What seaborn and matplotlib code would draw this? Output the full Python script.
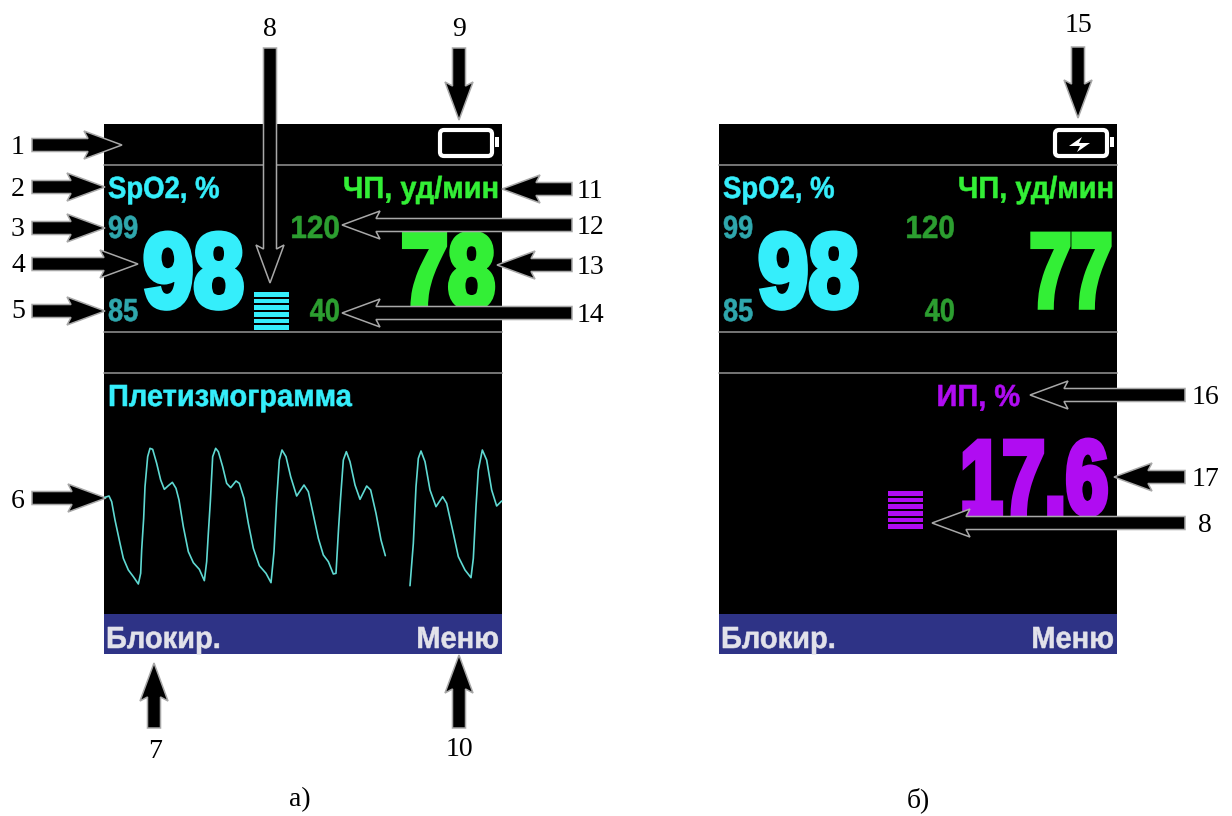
import numpy as np
import matplotlib
matplotlib.use('Agg')
import matplotlib.pyplot as plt
import matplotlib.patheffects as pe
from matplotlib.patches import Rectangle, FancyBboxPatch, Polygon
from matplotlib.transforms import Affine2D
import seaborn as sns

sns.set_theme(style='white')
SANS = ['Liberation Sans', 'DejaVu Sans']
SERIF = ['Liberation Serif', 'DejaVu Serif']

# ── Data ──────────────────────────────────────────────────────
spo2_value = '98'
spo2_high, spo2_low = '99', '85'
pulse_high, pulse_low = '120', '40'
pulse_left, pulse_right = '78', '77'
pi_value = '17.6'
bar_levels = [1, 1, 1, 1, 1, 1]
bar_slots = ['a', 'b', 'c', 'd', 'e', 'f']

# plethysmogram: sample number and screen level (level grows downwards)
pleth_t1 = [15, 27, 35, 45, 60, 70, 85, 100, 115, 122, 125, 131, 135, 143, 150, 158, 170, 182, 193, 205, 217, 228,
            237, 250, 265, 280, 298, 313, 320, 325, 331, 338, 347, 355, 368, 380, 392, 408, 418, 432, 445, 460,
            478, 498, 513, 522, 530, 538, 546, 558, 572, 590, 612, 625, 638, 655, 670, 685, 700, 708, 716, 722,
            730, 739, 750, 765, 780, 800, 812, 828, 843, 856]
pleth_y1 = [232, 228, 245, 300, 370, 415, 450, 470, 492, 460, 390, 295, 200, 110, 85, 88, 130, 180, 208, 197, 187, 205,
            240, 320, 395, 428, 448, 482, 425, 340, 245, 110, 85, 95, 140, 190, 203, 183, 190, 235, 310, 385,
            437, 460, 488, 395, 240, 120, 90, 110, 170, 228, 195, 215, 275, 355, 405, 425, 462, 460, 320, 230,
            120, 95, 125, 195, 238, 198, 210, 280, 360, 407]
pleth_t2 = [930, 940, 948, 955, 963, 975, 990, 1008, 1028, 1040, 1060, 1075, 1095, 1113, 1120, 1128, 1135, 1147,
            1160, 1175, 1190, 1205]
pleth_y2 = [497, 370, 200, 115, 93, 125, 210, 260, 230, 250, 340, 410, 450, 473, 415, 260, 150, 90,
            120, 210, 258, 243]

# ── Colours ───────────────────────────────────────────────────
CYAN = '#35eefb'
TEAL = '#2fa7ad'
GREEN = '#33ef36'
DGREEN = '#2c9e30'
PURPLE = '#b00cf2'
BLUE = '#2e3386'
GREY = '#8a8a8a'

W, H = 1232, 816
fig = plt.figure(figsize=(W / 100, H / 100), dpi=100, facecolor='white')
ax = fig.add_axes([0, 0, 1, 1])
ax.set_xlim(0, W); ax.set_ylim(H, 0)
ax.axis('off')


class Squeeze(pe.AbstractPathEffect):
    # no condensed font is installed, so narrow the glyph outlines around an anchor
    def __init__(self, anchor, sx, stroke, color):
        super().__init__()
        self.anchor, self.sx, self.stroke, self.color = anchor, sx, stroke, color

    def draw_path(self, renderer, gc, tpath, affine, rgbFace=None):
        squeezed = affine + Affine2D().translate(-self.anchor, 0).scale(self.sx, 1).translate(self.anchor, 0)
        gc0 = renderer.new_gc()
        gc0.copy_properties(gc)
        gc0.set_linewidth(self.stroke)
        gc0.set_foreground(self.color)
        gc0.set_joinstyle('miter')
        renderer.draw_path(gc0, tpath, squeezed, rgbFace)
        gc0.restore()


def sub_axes(x0, y0, w, h):
    a = fig.add_axes([x0 / W, 1 - (y0 + h) / H, w / W, h / H], zorder=2)
    a.axis('off')
    return a


def label(x, y, s, color, size, ha='left', sx=0.9, stroke=0.4):
    t = ax.text(x, y, s, color=color, fontsize=size, ha=ha, va='baseline', family=SANS,
                fontweight='bold', zorder=3)
    t.set_path_effects([Squeeze(x, sx, stroke, color)])


def screen(x0):
    ax.add_patch(Rectangle((x0, 124), 398, 530, fc='black', ec='none', zorder=1))
    ax.add_patch(Rectangle((x0, 614), 398, 40, fc=BLUE, ec='none', zorder=1.5))
    for yy in (165, 332, 373):
        ax.plot([x0, x0 + 398], [yy, yy], color=GREY, lw=1.2, zorder=1.5)
    # battery
    ax.add_patch(FancyBboxPatch((x0 + 336, 130), 52, 26, boxstyle='round,pad=0,rounding_size=4',
                                fc='black', ec='white', lw=3, zorder=2))
    ax.add_patch(Rectangle((x0 + 391, 137), 4, 10, fc='white', ec='none', zorder=2))
    # text
    label(x0 + 4, 198, 'SpO2, %', CYAN, 22, sx=0.9)
    label(x0 + 395, 198, 'ЧП, уд/мин', GREEN, 22, ha='right', sx=0.95)
    label(x0 + 4, 238, spo2_high, TEAL, 23, sx=0.85)
    label(x0 + 4, 321, spo2_low, TEAL, 23, sx=0.85)
    label(x0 + 236, 238, pulse_high, DGREEN, 23, ha='right', sx=0.93)
    label(x0 + 236, 321, pulse_low, DGREEN, 23, ha='right', sx=0.85)
    label(x0 + 39, 307, spo2_value, CYAN, 76, sx=0.86, stroke=4)
    label(x0 + 2, 648, 'Блокир.', '#e2e2ea', 22, sx=0.95)
    label(x0 + 395, 648, 'Меню', '#e2e2ea', 22, ha='right', sx=0.95)


def signal_bars(x0, y0, color):
    a = sub_axes(x0, y0, 35, 40)
    sns.barplot(x=bar_levels, y=bar_slots, orient='h', color=color, width=0.72, saturation=1,
                linewidth=0, ax=a)
    a.set_xlim(0, 1)
    a.axis('off')


def arrow(x0, y0, x1, y1):
    L = np.hypot(x1 - x0, y1 - y0)
    ux, uy = (x1 - x0) / L, (y1 - y0) / L
    nx, ny = -uy, ux
    head = 38
    pts = [(0, -6.5), (L - head + 4, -6.5), (L - head, -14), (L, 0), (L - head, 14), (L - head + 4, 6.5), (0, 6.5)]
    xy = [(x0 + s * ux + t * nx, y0 + s * uy + t * ny) for s, t in pts]
    ax.add_patch(Polygon(xy, closed=True, fc='black', ec='#a8a8a8', lw=1.1, zorder=4))


def num(x, y, s):
    ax.text(x, y, s, fontsize=20, family=SERIF, color='black', ha='center', va='center', zorder=5)


# ── Left screen ───────────────────────────────────────────────
screen(104)
label(495, 307, pulse_left, GREEN, 76, ha='right', sx=0.8, stroke=4)
label(108, 406, 'Плетизмограмма', CYAN, 22, sx=0.95)
signal_bars(254, 291, CYAN)

pleth = sub_axes(100, 420, 410, 180)
sns.lineplot(x=pleth_t1, y=pleth_y1, sort=False, estimator=None, color='#5fd9d2', lw=1.2, ax=pleth)
sns.lineplot(x=pleth_t2, y=pleth_y2, sort=False, estimator=None, color='#5fd9d2', lw=1.2, ax=pleth)
pleth.set_xlim(0, 1230); pleth.set_ylim(540, 0)
pleth.axis('off')

# ── Right screen ──────────────────────────────────────────────
screen(719)
label(1112, 307, pulse_right, GREEN, 76, ha='right', sx=0.7, stroke=4)
label(1020, 406, 'ИП, %', PURPLE, 22, ha='right', sx=0.95)
label(1108, 514, pi_value, PURPLE, 76, ha='right', sx=0.72, stroke=4)
signal_bars(888, 490, PURPLE)
ax.add_patch(Polygon([(1069, 146), (1082, 137), (1079, 143), (1090, 143), (1077, 152), (1080, 146)],
                     closed=True, fc='white', ec='none', zorder=3))

# ── Callouts ──────────────────────────────────────────────────
arrows = [(32, 145, 122, 145), (32, 187, 105, 187), (32, 228, 105, 228), (32, 264, 138, 264),
          (32, 311, 105, 311), (32, 498, 106, 498), (154, 728, 154, 663), (270, 48, 270, 283),
          (459, 48, 459, 120), (459, 728, 459, 655), (572, 189, 502, 189), (572, 225, 342, 225),
          (572, 265, 497, 265), (572, 313, 342, 313), (1078, 47, 1078, 118), (1185, 395, 1030, 395),
          (1185, 477, 1114, 477), (1185, 523, 932, 523)]
for a_ in arrows:
    arrow(*a_)

numbers = [(18, 147, '1'), (18, 189, '2'), (18, 230, '3'), (18, 266, '4'), (18, 312, '5'), (18, 502, '6'),
           (155, 751, '7'), (270, 29, '8'), (459, 29, '9'), (459, 749, '10'), (590, 192, '11'), (590, 228, '12'),
           (590, 267, '13'), (590, 315, '14'), (1078, 26, '15'), (1205, 397, '16'), (1205, 479, '17'),
           (1205, 526, '8'), (300, 800, 'а)'), (918, 800, 'б)')]
for x_, y_, s_ in numbers:
    num(x_, y_, s_)

plt.savefig('out.png', dpi=100, facecolor='white')
plt.close()
